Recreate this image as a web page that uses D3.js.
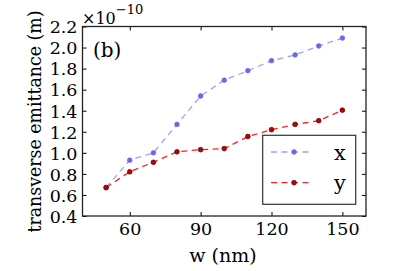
<!DOCTYPE html>
<html><head><meta charset="utf-8">
<script src="https://cdn.jsdelivr.net/npm/d3@7"></script>
<style>body{margin:0;background:#fff}svg{display:block}</style>
</head><body><svg id="c" width="407" height="271"></svg>
<script>
const widths = [50,60,70,80,90,100,110,120,130,140,150];
const emitX = [0.67,0.93,1.00,1.27,1.54,1.69,1.78,1.875,1.93,2.015,2.09];
const emitY = [0.67,0.82,0.91,1.01,1.03,1.04,1.155,1.22,1.27,1.305,1.405];
const xTicks = [60,90,120,150];
const yTicks = [0.4,0.6,0.8,1.0,1.2,1.4,1.6,1.8,2.0,2.2];
const seriesNames = ["x","y"];

const FONT = "'DejaVu Serif', 'Liberation Serif', serif";
const svg = d3.select("#c");
const L=82.5, R=366, T=26.5, B=216;
const x = d3.scaleLinear().domain([40,160]).range([L,R]);
const y = d3.scaleLinear().domain([0.4,2.2]).range([B,T]);

const styles = [
  {line:"#a0a0ff", dot:"#6a6ae0", edge:"#6a6ae0", data:emitX},
  {line:"#ff2020", dot:"#c00000", edge:"#300000", data:emitY}
];

const gx = svg.append("g").attr("transform",`translate(0,${B})`)
  .call(d3.axisBottom(x).tickValues(xTicks).tickSizeInner(-4).tickSizeOuter(0).tickPadding(7));
const gxt = svg.append("g").attr("transform",`translate(0,${T})`)
  .call(d3.axisTop(x).tickValues(xTicks).tickSizeInner(-4).tickSizeOuter(0).tickFormat(""));
const gy = svg.append("g").attr("transform",`translate(${L},0)`)
  .call(d3.axisLeft(y).tickValues(yTicks).tickSizeInner(-4).tickSizeOuter(0).tickPadding(5).tickFormat(d3.format(".1f")));
const gyr = svg.append("g").attr("transform",`translate(${R},0)`)
  .call(d3.axisRight(y).tickValues(yTicks).tickSizeInner(-4).tickSizeOuter(0).tickFormat(""));
[gx,gxt,gy,gyr].forEach(g=>{g.attr("font-family",FONT);g.select(".domain").remove();g.selectAll("line").attr("stroke","#000");
  g.selectAll("text").style("font-family",FONT).attr("font-size",17.5).attr("fill","#000");});
gx.selectAll("text").attr("dy","0.71em");
gy.selectAll("text").attr("dy","0.36em");

svg.append("rect").attr("x",L).attr("y",T).attr("width",R-L).attr("height",B-T)
  .attr("fill","none").attr("stroke","#222").attr("stroke-width",1.3);

const line = d3.line().x((d,i)=>x(widths[i])).y(d=>y(d));
styles.forEach(s=>{
  svg.append("path").datum(s.data).attr("d",line).attr("fill","none")
    .attr("stroke",s.line).attr("stroke-width",1.3).attr("stroke-dasharray","6,4.5");
  svg.selectAll(null).data(s.data).enter().append("circle")
    .attr("cx",(d,i)=>x(widths[i])).attr("cy",d=>y(d)).attr("r",2.4)
    .attr("fill",s.dot).attr("stroke",s.edge).attr("stroke-width",0.6);
});

// legend
const lg = svg.append("g");
lg.append("rect").attr("x",262.7).attr("y",135.3).attr("width",93).attr("height",69)
  .attr("fill","#fff").attr("stroke","#333").attr("stroke-width",1.2);
styles.forEach((s,i)=>{
  const yy = 152 + i*30.7;
  lg.append("line").attr("x1",271).attr("x2",312).attr("y1",yy).attr("y2",yy)
    .attr("stroke",s.line).attr("stroke-width",1.3).attr("stroke-dasharray","6,4.5");
  lg.append("circle").attr("cx",294).attr("cy",yy).attr("r",2.4).attr("fill",s.dot).attr("stroke",s.edge).attr("stroke-width",0.6);
  lg.append("text").attr("x",334).attr("y",yy+7.5).attr("font-size",21).style("font-family",FONT).text(seriesNames[i]);
});

svg.append("text").attr("x",93).attr("y",57).attr("font-size",20).style("font-family",FONT).text("(b)");
const off = svg.append("text").attr("x",82).attr("y",23.5).attr("font-size",16).style("font-family",FONT);
off.append("tspan").text("×10");
off.append("tspan").attr("dy",-9.5).attr("font-size",13).text("−10");

svg.append("text").attr("x",223).attr("y",261.5).attr("text-anchor","middle").attr("font-size",19).style("font-family",FONT).text("w (nm)");
svg.append("text").attr("transform","translate(41,121.5) rotate(-90)").attr("text-anchor","middle")
  .attr("font-size",18).attr("textLength",222).attr("lengthAdjust","spacingAndGlyphs")
  .style("font-family",FONT).text("transverse emittance (m)");
</script></body></html>
